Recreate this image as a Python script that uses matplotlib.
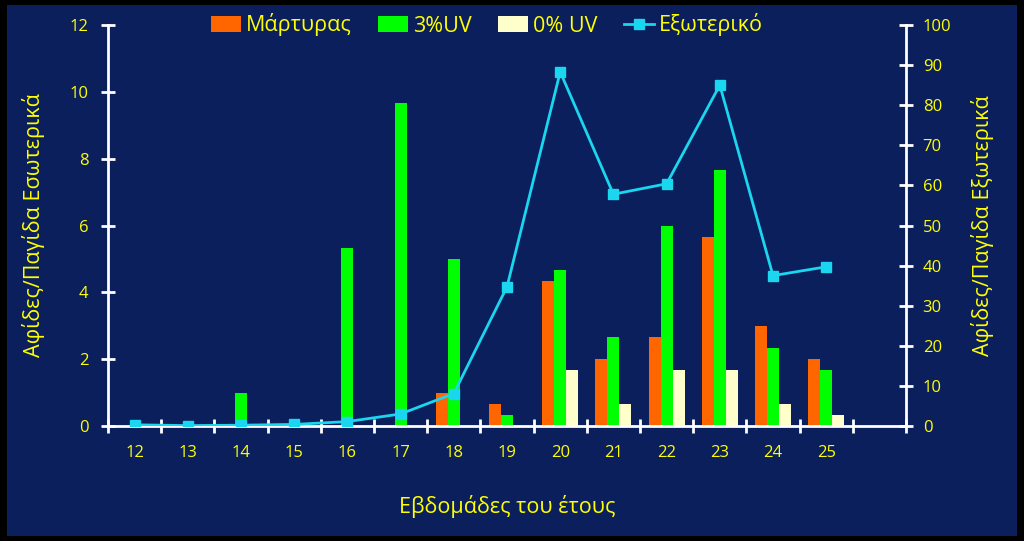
import matplotlib
matplotlib.use("Agg")
import matplotlib.pyplot as plt
from matplotlib.patches import Rectangle, Patch
from matplotlib.lines import Line2D
import numpy as np

plt.rcParams['font.family'] = ['Open Sans', 'DejaVu Sans']

weeks = ["12", "13", "14", "15", "16", "17", "18", "19", "20", "21", "22", "23", "24", "25", ""]
control = [0, 0, 0, 0, 0, 0, 1.0, 0.67, 4.33, 2.0, 2.67, 5.67, 3.0, 2.0]
uv3 = [0, 0, 1.0, 0, 5.33, 9.67, 5.0, 0.33, 4.67, 2.67, 6.0, 7.67, 2.33, 1.67]
uv0 = [0, 0, 0, 0, 0, 0, 0, 0, 1.67, 0.67, 1.67, 1.67, 0.67, 0.33]
outside = [0.3, 0.1, 0.2, 0.4, 1.1, 3.0, 8.1, 34.7, 88.3, 57.8, 60.4, 85.0, 37.5, 39.7]

series_names = ["Μάρτυρας", "3%UV", "0% UV", "Εξωτερικό"]
left_label = "Αφίδες/Παγίδα Εσωτερικά"
right_label = "Αφίδες/Παγίδα Εξωτερικά"
x_label = "Εβδομάδες του έτους"

NAVY = '#0a1f5c'
YEL = '#ffff00'
ORANGE = '#ff6600'
GREEN = '#00ff00'
CREAM = '#ffffcc'
CYAN = '#1ad6ee'

fig = plt.figure(figsize=(10.24, 5.41), dpi=100, facecolor='black')
fig.patches.append(Rectangle((7/1024, 5/541), 1010/1024, 531/541, transform=fig.transFigure,
                             facecolor=NAVY, edgecolor='none', zorder=-10))

ax = fig.add_axes([108/1024, 1 - 426/541, (906-108)/1024, (426-25)/541])
ax.set_facecolor('none')
ax2 = ax.twinx()

n = len(control)
x = np.arange(n)
w = 0.225
ax.bar(x - w, control, width=w, color=ORANGE, zorder=2)
ax.bar(x, uv3, width=w, color=GREEN, zorder=2)
ax.bar(x + w, uv0, width=w, color=CREAM, zorder=2)
ax2.plot(x, outside, color=CYAN, lw=2, marker='s', ms=6.5, zorder=3)

ax.set_xlim(-0.5, len(weeks) - 0.5)
ax.set_ylim(0, 12)
ax2.set_ylim(0, 100)
ax.set_yticks(np.arange(0, 13, 2))
ax2.set_yticks(np.arange(0, 101, 10))
ax.set_xticks(np.arange(len(weeks)))
ax.set_xticklabels(weeks)
ax.set_xticks(np.arange(len(weeks) + 1) - 0.5, minor=True)

for a in (ax, ax2):
    for s in a.spines.values():
        s.set_visible(False)
ax.spines['left'].set_visible(True)
ax.spines['bottom'].set_visible(True)
ax2.spines['right'].set_visible(True)
for s in (ax.spines['left'], ax.spines['bottom'], ax2.spines['right']):
    s.set_color('white')
    s.set_linewidth(2)

ax.tick_params(axis='x', which='major', length=0, pad=14, labelcolor=YEL, labelsize=12)
ax.tick_params(axis='x', which='minor', direction='inout', length=10, width=2, color='white')
ax.tick_params(axis='y', direction='inout', length=10, width=2, color='white', labelcolor=YEL, labelsize=12, pad=9)
ax2.tick_params(axis='y', direction='inout', length=10, width=2, color='white', labelcolor=YEL, labelsize=12, pad=7)

ax.set_ylabel(left_label, color=YEL, fontsize=15.5, labelpad=18)
ax2.set_ylabel(right_label, color=YEL, fontsize=15.5, labelpad=14)
ax.set_xlabel(x_label, color=YEL, fontsize=15.5, labelpad=24)

handles = [Patch(facecolor=ORANGE), Patch(facecolor=GREEN), Patch(facecolor=CREAM),
           Line2D([], [], color=CYAN, lw=2, marker='s', ms=6.5)]
leg = fig.legend(handles, series_names, loc='center', bbox_to_anchor=(487/1024, 1 - 25/541), ncol=4,
                 frameon=False, fontsize=15.5, labelcolor=YEL, handlelength=1.4, handleheight=0.8,
                 columnspacing=1.2, handletextpad=0.25)

fig.savefig('out.png', dpi=100, facecolor='black')
